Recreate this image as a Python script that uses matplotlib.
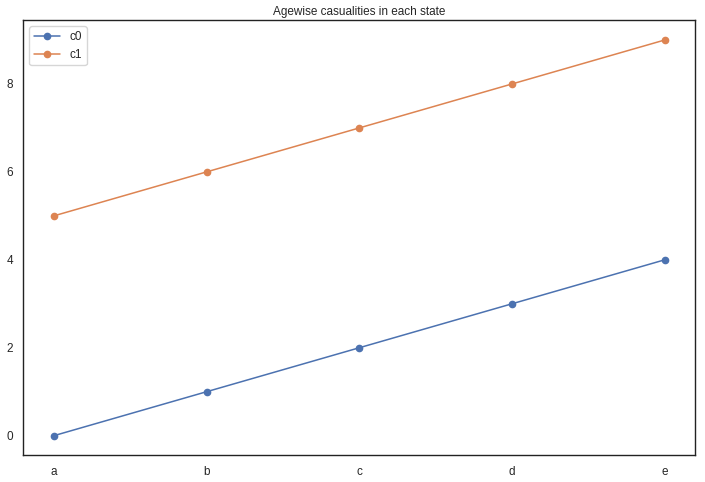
import numpy as np
import pandas as pd
import seaborn as sns
import matplotlib
matplotlib.use("Agg")
import matplotlib.pyplot as plt

sns.set_theme(style="white")
plt.rcParams['font.family'] = ['Liberation Sans', 'DejaVu Sans']

labels = ["a", "b", "c", "d", "e"]
c0 = [0, 1, 2, 3, 4]
c1 = [5, 6, 7, 8, 9]

df = pd.DataFrame({"c0": c0, "c1": c1}, index=labels)

fig, ax = plt.subplots(figsize=(7.05, 4.82), dpi=100)
x = np.arange(len(labels))
for col in df.columns:
    ax.plot(x, df[col], marker="o", markersize=4.5, linewidth=1.1, label=col)
ax.set_xticks(x)
ax.set_xticklabels(labels)
ax.tick_params(labelsize=8.5, pad=1.5)
ax.set_title("Agewise casualities in each state", fontsize=8.5, pad=4)
ax.legend(loc="upper left", fontsize=8.5, handlelength=2.2, borderpad=0.4)
for s in ax.spines.values():
    s.set_color("#222222")
    s.set_linewidth(1.0)
fig.subplots_adjust(left=0.033, right=0.986, top=0.958, bottom=0.055)
fig.savefig("out.png")
